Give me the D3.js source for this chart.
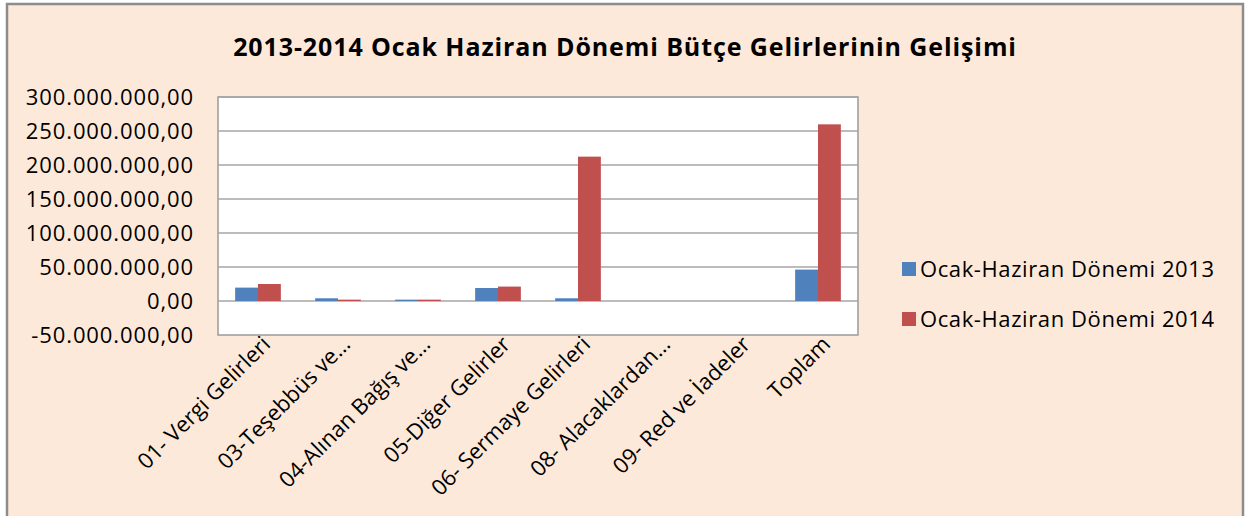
<!DOCTYPE html>
<html>
<head>
<meta charset="utf-8">
<script src="https://cdn.jsdelivr.net/npm/d3@7"></script>
<style>
  body { margin: 0; background: #fff; }
  svg text { font-family: "Open Sans", "DejaVu Sans", sans-serif; fill: #000; }
</style>
</head>
<body>
<div id="chart"></div>
<script>
// categories and values
const categories = [
  "01- Vergi Gelirleri",
  "03-Teşebbüs ve…",
  "04-Alınan Bağış ve…",
  "05-Diğer Gelirler",
  "06- Sermaye Gelirleri",
  "08- Alacaklardan…",
  "09- Red ve İadeler",
  "Toplam"
];
const series2013 = [19700000, 4000000, 2000000, 19100000, 4000000, 0, 0, 46200000];
const series2014 = [25000000, 2000000, 2000000, 21200000, 212300000, 0, 0, 259800000];
const seriesNames = ["Ocak-Haziran Dönemi 2013", "Ocak-Haziran Dönemi 2014"];
const yTicks = [-50000000, 0, 50000000, 100000000, 150000000, 200000000, 250000000, 300000000];
const colors = ["#4F81BD", "#C0504D"];

const W = 1245, H = 516;
const plot = { left: 218, right: 858, top: 97, bottom: 335 };

const svg = d3.select("#chart").append("svg")
  .attr("width", W).attr("height", H);

// chart background + frame
svg.append("rect").attr("x", 0).attr("y", 0).attr("width", W).attr("height", H).attr("fill", "#fff");
svg.append("rect")
  .attr("x", 7).attr("y", 4).attr("width", 1236).attr("height", 520)
  .attr("fill", "#FDE9D9").attr("stroke", "#8c8c8c").attr("stroke-width", 2.5);

svg.append("text")
  .attr("x", 625).attr("y", 56)
  .attr("text-anchor", "middle")
  .style("font-size", "25px").style("font-weight", "bold")
  .style("letter-spacing", "0.9px")
  .text("2013-2014 Ocak Haziran Dönemi Bütçe Gelirlerinin Gelişimi");

const y = d3.scaleLinear().domain([-50000000, 300000000]).range([plot.bottom, plot.top]);
const x0 = d3.scaleBand().domain(categories).range([plot.left, plot.right]);
const barW = x0.bandwidth() / 3.5;
const x1 = d3.scaleBand().domain([0, 1]).range([-barW, barW]);

// plot area
svg.append("rect")
  .attr("x", plot.left).attr("y", plot.top)
  .attr("width", plot.right - plot.left).attr("height", plot.bottom - plot.top)
  .attr("fill", "#fff").attr("stroke", "#9a9a9a").attr("stroke-width", 1.5);

const fmt = v => {
  const s = Math.abs(v).toString().replace(/\B(?=(\d{3})+(?!\d))/g, ".");
  return (v < 0 ? "-" : "") + s + ",00";
};

const yAxis = d3.axisLeft(y).tickValues(yTicks).tickSize(0).tickPadding(24).tickFormat(fmt);
const gy = svg.append("g").attr("transform", `translate(${plot.left},0)`).call(yAxis);
gy.select(".domain").remove();
gy.selectAll("text").style("font-size", "22px").style("letter-spacing", "0.9px").attr("fill", "#000");

// gridlines
svg.append("g").selectAll("line")
  .data(yTicks.filter(d => d > -50000000))
  .join("line")
  .attr("x1", plot.left).attr("x2", plot.right)
  .attr("y1", d => y(d)).attr("y2", d => y(d))
  .attr("stroke", "#a6a6a6").attr("stroke-width", 1.5);

// bars
const rows = categories.map((c, i) => ({ c, v: [series2013[i], series2014[i]] }));
svg.append("g").selectAll("g")
  .data(rows)
  .join("g")
  .attr("transform", d => `translate(${x0(d.c) + x0.bandwidth() / 2},0)`)
  .selectAll("rect")
  .data(d => d.v.map((v, k) => ({ v, k })))
  .join("rect")
  .attr("x", d => x1(d.k))
  .attr("width", x1.bandwidth())
  .attr("y", d => y(Math.max(0, d.v)))
  .attr("height", d => Math.abs(y(d.v) - y(0)))
  .attr("fill", d => colors[d.k]);

// category labels
svg.append("g").selectAll("text")
  .data(categories)
  .join("text")
  .attr("transform", d => `translate(${x0(d) + x0.bandwidth() / 2 + 2},${plot.bottom - 1}) rotate(-45)`)
  .attr("text-anchor", "end")
  .attr("dy", "0.75em")
  .style("font-size", "22px")
  .text(d => d);

// legend
const lg = svg.append("g").selectAll("g")
  .data(seriesNames)
  .join("g")
  .attr("transform", (d, i) => `translate(902,${262 + i * 50})`);
lg.append("rect").attr("width", 14).attr("height", 14).attr("fill", (d, i) => colors[i]);
lg.append("text").attr("x", 18).attr("y", 7).attr("dy", "0.35em")
  .style("font-size", "22px").style("letter-spacing", "0.6px").text(d => d);
</script>
</body>
</html>
